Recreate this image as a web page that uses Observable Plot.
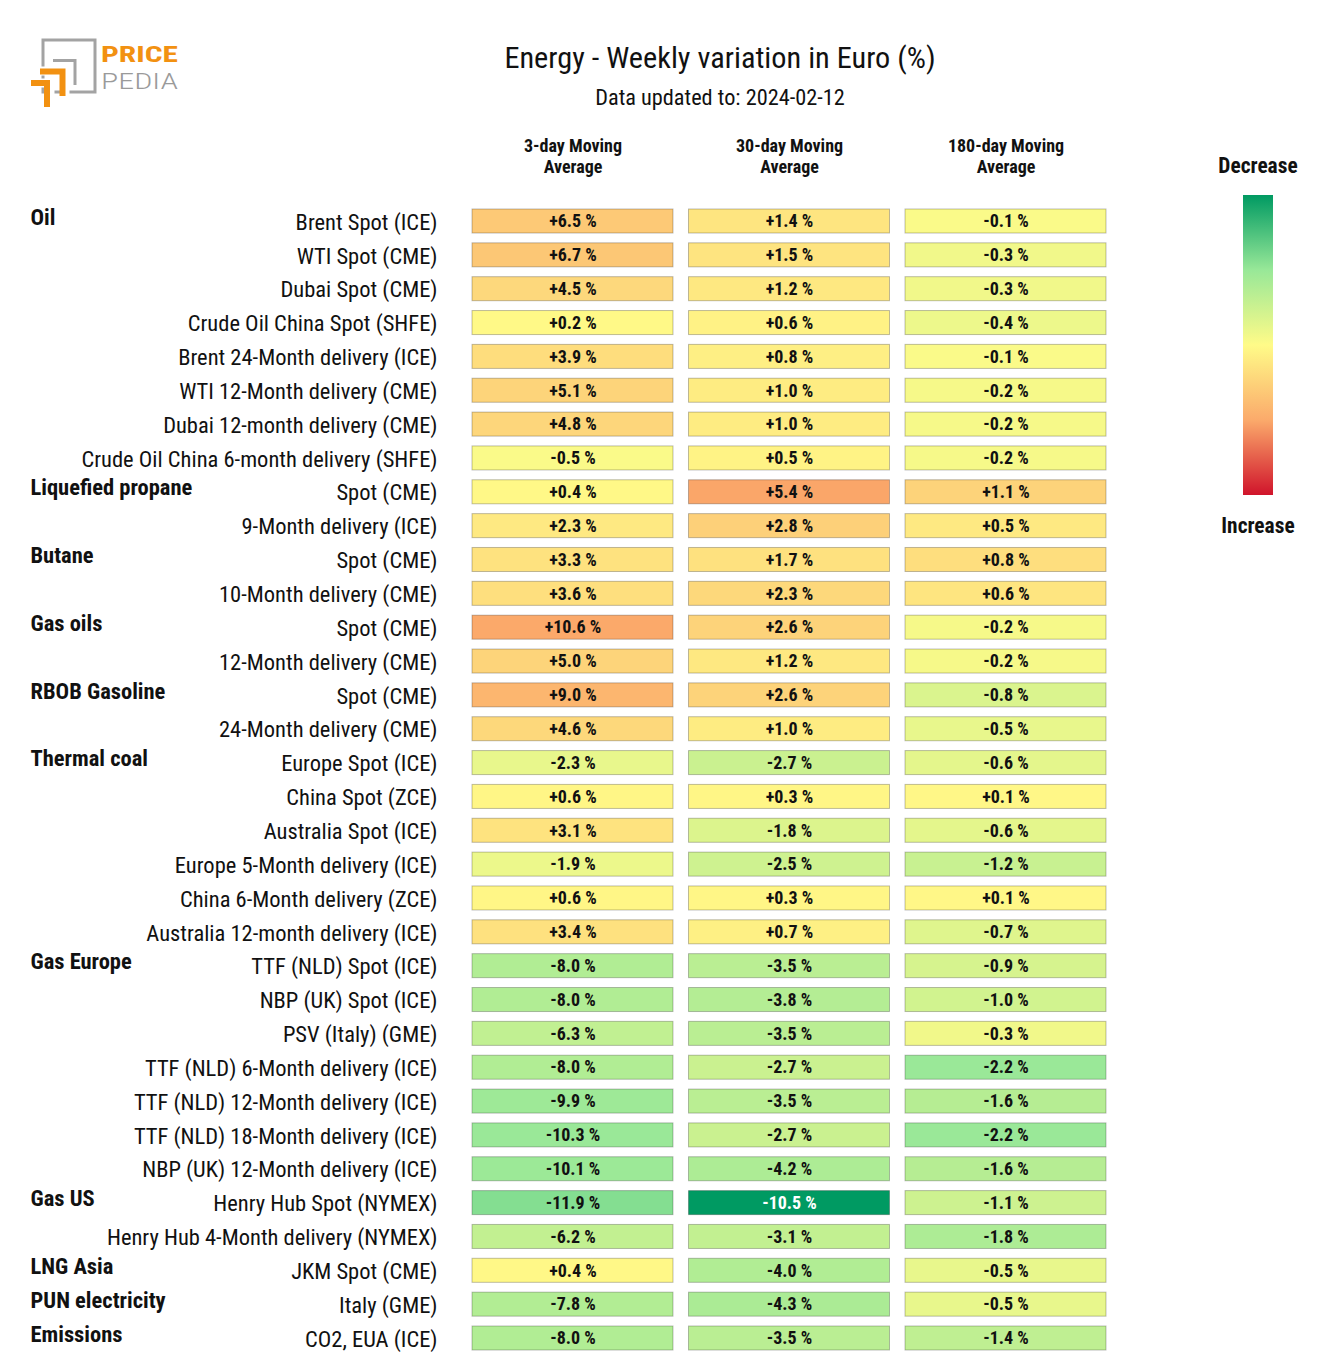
<!DOCTYPE html>
<html><head><meta charset="utf-8">
<script src="https://cdn.jsdelivr.net/npm/d3@7"></script>
<script src="https://cdn.jsdelivr.net/npm/@observablehq/plot@0.6"></script>
<style>
body{margin:0;background:#fff;}
#wrap{position:relative;width:1320px;height:1357px;font-family:"Roboto Condensed","Liberation Sans Narrow","Roboto",sans-serif;color:#111;}
#chart{position:absolute;left:0;top:0;}
.abs{position:absolute;white-space:nowrap;}
#title{left:0;width:1440px;top:40px;text-align:center;font-size:30.3px;line-height:36px;}
#subtitle{left:0;width:1440px;top:84px;text-align:center;font-size:22.3px;line-height:27px;}
#legbar{left:1243px;top:195px;width:30px;height:300px;}
.leglab{width:120px;left:1198px;text-align:center;font-weight:bold;font-size:21.4px;line-height:25px;}
</style></head><body>
<div id="wrap">
  <svg class="abs" style="left:0;top:0" width="200" height="120">
    <rect x="43" y="40" width="52" height="52" fill="none" stroke="#a3a3a3" stroke-width="3"/>
    <path d="M53 60.5 H75 V85" fill="none" stroke="#a3a3a3" stroke-width="3"/>
    <path d="M40 71 H65 V96" fill="none" stroke="#fff" stroke-width="9"/>
    <path d="M40 71.5 H62.5 V96" fill="none" stroke="#f29111" stroke-width="6"/>
    <path d="M31 83 H50 V107" fill="none" stroke="#fff" stroke-width="9"/>
    <path d="M31 83 H47 V107" fill="none" stroke="#f29111" stroke-width="6"/>
    <text x="101" y="62" font-family="Roboto Condensed, Liberation Sans Narrow, Roboto, sans-serif" font-weight="bold" font-size="22" fill="#f29111" textLength="77" lengthAdjust="spacingAndGlyphs">PRICE</text>
    <text x="101" y="89" font-family="Roboto Condensed, Liberation Sans Narrow, Roboto, sans-serif" font-weight="300" font-size="22" fill="#9a9a9a" textLength="77" lengthAdjust="spacingAndGlyphs">PEDIA</text>
  </svg>
  <div id="chart"></div>
  <div id="title" class="abs">Energy - Weekly variation in Euro (%)</div>
  <div id="subtitle" class="abs">Data updated to: 2024-02-12</div>
  <div id="legbar" class="abs"></div>
  <div class="abs leglab" style="top:153px">Decrease</div>
  <div class="abs leglab" style="top:513px">Increase</div>
</div>
<script>
const columns = ["3-day Moving\nAverage", "30-day Moving\nAverage", "180-day Moving\nAverage"];
const groups = ["Oil","","","","","","","",
  "Liquefied propane","", "Butane","", "Gas oils","", "RBOB Gasoline","",
  "Thermal coal","","","","","",
  "Gas Europe","","","","","","",
  "Gas US","", "LNG Asia", "PUN electricity", "Emissions"];
const items = ["Brent Spot (ICE)","WTI Spot (CME)","Dubai Spot (CME)","Crude Oil China Spot (SHFE)",
  "Brent 24-Month delivery (ICE)","WTI 12-Month delivery (CME)","Dubai 12-month delivery (CME)",
  "Crude Oil China 6-month delivery (SHFE)",
  "Spot (CME)","9-Month delivery (ICE)","Spot (CME)","10-Month delivery (CME)",
  "Spot (CME)","12-Month delivery (CME)","Spot (CME)","24-Month delivery (CME)",
  "Europe Spot (ICE)","China Spot (ZCE)","Australia Spot (ICE)","Europe 5-Month delivery (ICE)",
  "China 6-Month delivery (ZCE)","Australia 12-month delivery (ICE)",
  "TTF (NLD) Spot (ICE)","NBP (UK) Spot (ICE)","PSV (Italy) (GME)","TTF (NLD) 6-Month delivery (ICE)",
  "TTF (NLD) 12-Month delivery (ICE)","TTF (NLD) 18-Month delivery (ICE)","NBP (UK) 12-Month delivery (ICE)",
  "Henry Hub Spot (NYMEX)","Henry Hub 4-Month delivery (NYMEX)","JKM Spot (CME)","Italy (GME)","CO2, EUA (ICE)"];
const ma3 = [6.5,6.7,4.5,0.2,3.9,5.1,4.8,-0.5, 0.4,2.3,3.3,3.6,10.6,5.0,9.0,4.6,
  -2.3,0.6,3.1,-1.9,0.6,3.4, -8.0,-8.0,-6.3,-8.0,-9.9,-10.3,-10.1, -11.9,-6.2,0.4,-7.8,-8.0];
const ma30 = [1.4,1.5,1.2,0.6,0.8,1.0,1.0,0.5, 5.4,2.8,1.7,2.3,2.6,1.2,2.6,1.0,
  -2.7,0.3,-1.8,-2.5,0.3,0.7, -3.5,-3.8,-3.5,-2.7,-3.5,-2.7,-4.2, -10.5,-3.1,-4.0,-4.3,-3.5];
const ma180 = [-0.1,-0.3,-0.3,-0.4,-0.1,-0.2,-0.2,-0.2, 1.1,0.5,0.8,0.6,-0.2,-0.2,-0.8,-0.5,
  -0.6,0.1,-0.6,-1.2,0.1,-0.7, -0.9,-1.0,-0.3,-2.2,-1.6,-2.2,-1.6, -1.1,-1.8,-0.5,-0.5,-1.4];
// colour normalisation range per column
const halfRange = [21, 10.5, 4.5];
const stops = ["#009a62", "#98e898", "#fffb88", "#fbaa6b", "#d0142b"];

const font = '"Roboto Condensed","Liberation Sans Narrow","Roboto",sans-serif';
const cells = [];
[ma3, ma30, ma180].forEach((arr, c) => arr.forEach((v, i) =>
  cells.push({i, col: columns[c], v, n: v / halfRange[c]})));
const rows = items.map((name, i) => ({i, name, group: groups[i]}));
const fmt = v => (v > 0 ? "+" : v < 0 ? "-" : "") + Math.abs(v).toFixed(1) + " %";

const n = items.length;
const step = (1338 - 221) / (n - 1);
const chart = Plot.plot({
  width: 1320, height: 1357,
  marginLeft: 464, marginTop: 136, marginRight: 0, marginBottom: 0,
  style: {fontFamily: font, background: "transparent", color: "#111"},
  x: {type: "band", domain: columns, range: [464.25, 1113.75], paddingInner: 0.0716, paddingOuter: 0.0358, round: false, axis: null},
  y: {type: "band", domain: d3.range(n), range: [221 - step / 2, 1338 + step / 2], paddingInner: 0.29, paddingOuter: 0.145, round: false, axis: null},
  color: {type: "linear", domain: [-1, -0.5, 0, 0.5, 1], range: stops, clamp: true, interpolate: "rgb"},
  marks: [
    Plot.cell(cells, {x: "col", y: "i", fill: "n", inset: 0, stroke: "#000", strokeOpacity: 0.25, strokeWidth: 1}),
    Plot.text(cells.filter(d => d.n >= -0.85), {x: "col", y: "i", text: d => fmt(d.v), fill: "#111", fontWeight: "bold", fontSize: 18}),
    Plot.text(cells.filter(d => d.n < -0.85), {x: "col", y: "i", text: d => fmt(d.v), fill: "white", fontWeight: "bold", fontSize: 18}),
    Plot.text(rows, {y: "i", text: "name", frameAnchor: "left", dx: -27, dy: 1, textAnchor: "end", fontSize: 22.5, fill: "#111"}),
    Plot.text(rows.filter(d => d.group), {y: "i", text: "group", frameAnchor: "left", dx: 30 - 464, dy: -4, textAnchor: "start", fontSize: 22.5, fontWeight: "bold", fill: "#111"}),
    Plot.text(columns, {x: d => d, text: d => d, frameAnchor: "top", lineAnchor: "top", fontSize: 18, fontWeight: "bold", lineHeight: 1.2, fill: "#111"})
  ]
});
document.getElementById("chart").appendChild(chart);
document.getElementById("legbar").style.background = "linear-gradient(to bottom," + stops.join(",") + ")";
</script>
</body></html>
